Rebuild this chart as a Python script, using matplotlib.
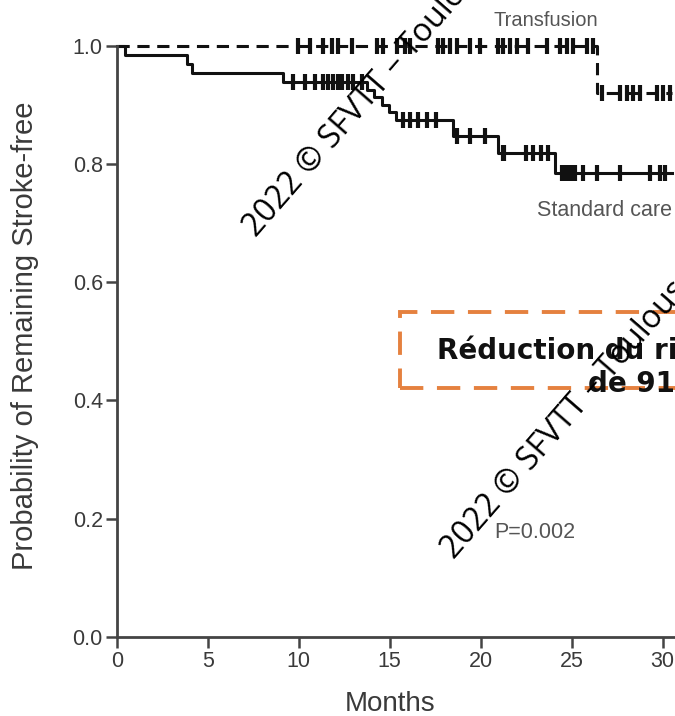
import matplotlib
matplotlib.use("Agg")
import matplotlib.pyplot as plt
from matplotlib.patches import Rectangle

# Kaplan-Meier step data (months, probability after the event)
sc_times = [0, 0.46, 3.85, 4.15, 9.15, 13.75, 14.15, 14.55, 14.95, 15.35, 18.5, 20.95, 24.1, 30.5]
sc_surv = [1.0, 0.984, 0.970, 0.954, 0.939, 0.926, 0.913, 0.900, 0.888, 0.875, 0.847, 0.819, 0.785, 0.785]

tr_times = [0, 26.4, 30.5]
tr_surv = [1.0, 0.920, 0.920]

# censoring marks
sc_cens_t = [9.69, 10.35, 10.9, 11.33, 11.6, 11.87, 12.15, 12.4, 12.7, 12.98, 13.48,
             15.73, 16.1, 16.55, 17.05, 17.54,
             18.68, 19.4, 20.24,
             21.2, 21.3, 22.5, 22.9, 23.3, 23.7,
             24.45, 24.63, 24.81, 25.0, 25.18, 25.64, 26.37, 27.64, 29.3, 29.84, 30.1]
sc_cens_s = [0.939] * 11 + [0.875] * 5 + [0.847] * 3 + [0.819] * 6 + [0.785] * 11

tr_cens_t = [9.96, 10.62, 11.34, 11.83, 12.16, 12.93, 14.3, 14.63, 15.4, 15.84, 16.1,
             17.65, 17.93, 18.31, 18.7, 19.41, 19.96, 20.95, 21.22, 21.6, 21.99, 22.6,
             23.64, 24.36, 24.74, 25.07, 25.84, 26.17,
             26.65, 27.65, 28.02, 28.37, 28.76, 29.67, 30.02, 30.4]
tr_cens_s = [1.0] * 28 + [0.920] * 8

xticks = [0, 5, 10, 15, 20, 25, 30]
yticks = [0.0, 0.2, 0.4, 0.6, 0.8, 1.0]

W, H = 675, 716
fig = plt.figure(figsize=(W / 100, H / 100), dpi=100)
x0, y0 = 116.7, 636.7
pxm, pxu = 18.2, 590.7
xmax, ymax = 35, 1.05
ax = fig.add_axes([x0 / W, (H - y0) / H, xmax * pxm / W, ymax * pxu / H])
ax.set_xlim(0, xmax)
ax.set_ylim(0, ymax)

ink = "#111111"
ax.step(tr_times, tr_surv, where="post", color=ink, lw=2.2, ls=(0, (4, 2.5)), clip_on=False)
ax.step(sc_times, sc_surv, where="post", color=ink, lw=2.2, clip_on=False)
ax.plot(tr_cens_t, tr_cens_s, ls="none", marker="|", ms=11, mew=3, color=ink, clip_on=False)
ax.plot(sc_cens_t, sc_cens_s, ls="none", marker="|", ms=11, mew=3, color=ink, clip_on=False)

for s in ["top", "right"]:
    ax.spines[s].set_visible(False)
for s in ["left", "bottom"]:
    ax.spines[s].set_color("#444444")
    ax.spines[s].set_linewidth(2)
ax.spines["left"].set_bounds(0, 1)
ax.set_xticks(xticks)
ax.set_xticklabels([str(t) for t in xticks])
ax.set_yticks(yticks)
ax.set_yticklabels(["%.1f" % t for t in yticks])
ax.tick_params(direction="out", length=8, width=1.8, color="#444444",
               labelsize=15.5, labelcolor="#3a3a3a", pad=2)
for lab in ax.get_xticklabels() + ax.get_yticklabels():
    lab.set_family("Liberation Sans")

ax.set_ylabel("Probability of Remaining Stroke-free", fontsize=21, color="#3a3a3a",
              family="Liberation Sans")
ax.yaxis.set_label_coords(-0.122, 0.486)
ax.set_xlabel("Months", fontsize=20, color="#3a3a3a", family="Liberation Sans")
ax.xaxis.set_label_coords(0.429, -0.088)

ax.text(26.45, 1.043, "Transfusion", fontsize=14.5, color="#555555", family="Liberation Sans",
        ha="right", va="center", clip_on=False)
ax.text(23.1, 0.722, "Standard care", fontsize=15.5, color="#555555", family="Liberation Sans",
        ha="left", va="center", clip_on=False)
ax.text(23.0, 0.177, "P=0.002", fontsize=15.5, color="#555555", family="Liberation Sans",
        ha="center", va="center")

box = Rectangle((15.57, 0.421), 24.1, 0.129, fill=False, ec="#E5813F", lw=2.8,
                ls=(0, (6, 3.5)), clip_on=False)
ax.add_patch(box)
ax.text(17.6, 0.485, "Réduction du risque", fontsize=20, fontweight="bold",
        ha="left", va="center", color="#111111", family="DejaVu Sans", clip_on=False)
ax.text(25.9, 0.428, "de 91%", fontsize=20, fontweight="bold",
        ha="left", va="center", color="#111111", family="DejaVu Sans", clip_on=False)

# watermarks
for px, py in [(256, 238), (454, 560)]:
    fig.text(px / W, 1 - py / H, "2022 © SFVTT – Toulouse", fontsize=23, rotation=49,
             rotation_mode="anchor", ha="left", va="baseline", color="black",
             family="Open Sans")

fig.savefig("out.png", dpi=100)
